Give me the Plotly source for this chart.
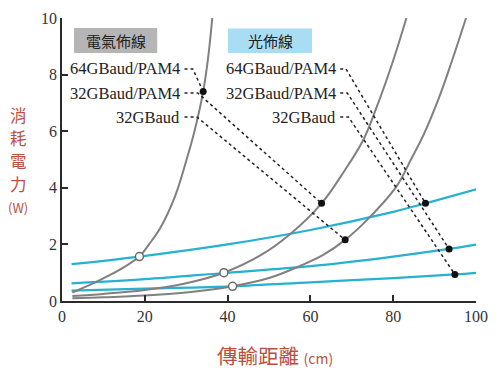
import plotly.graph_objects as go

# ---------------- data ----------------
# Electrical wiring curves (gray)
elec_64pam4_x = [2.5, 7.5, 11.6, 15, 18.7, 21, 23.7, 27.3, 30.1, 32, 34.1, 35.3, 36.3]
elec_64pam4_y = [0.30, 0.62, 0.92, 1.2, 1.57, 2.0, 2.57, 3.7, 5.0, 6.0, 7.4, 8.6, 10.0]

elec_32pam4_x = [2.5, 10, 20, 30, 39.1, 47.8, 55, 62.7, 68, 72.8, 76, 80, 83.2]
elec_32pam4_y = [0.18, 0.25, 0.39, 0.63, 1.0, 1.6, 2.35, 3.45, 4.55, 5.7, 6.85, 8.5, 10.0]

elec_32_x = [2.5, 10, 20, 30, 41.2, 50, 57.5, 63, 68.4, 74, 80.8, 84.5, 87.3, 91, 94, 97.6]
elec_32_y = [0.10, 0.13, 0.19, 0.30, 0.52, 0.81, 1.24, 1.62, 2.16, 2.91, 4.05, 5.06, 5.86, 7.16, 8.4, 10.0]

# Optical wiring curves (blue)
opt_64pam4_x = [2.3, 18.7, 40, 60, 80, 87.8, 100.4]
opt_64pam4_y = [1.30, 1.57, 2.0, 2.51, 3.15, 3.45, 3.96]

opt_32pam4_x = [2.3, 20, 39.1, 60, 80, 93.5, 100.4]
opt_32pam4_y = [0.62, 0.77, 0.99, 1.23, 1.57, 1.84, 2.0]

opt_32_x = [2.3, 20, 41.2, 60, 80, 94.9, 100.4]
opt_32_y = [0.37, 0.44, 0.52, 0.66, 0.81, 0.94, 1.0]

# Crossing points (open circles)
cross_x = [18.7, 39.1, 41.2]
cross_y = [1.57, 1.0, 0.52]

# Labelled points (black dots)
series_labels = ["64GBaud/PAM4", "32GBaud/PAM4", "32GBaud"]
elec_dot_x = [34.1, 62.7, 68.4]
elec_dot_y = [7.4, 3.45, 2.16]
opt_dot_x = [87.8, 93.5, 94.9]
opt_dot_y = [3.45, 1.84, 0.94]

x_ticks = [0, 20, 40, 60, 80, 100]
y_ticks = [0, 2, 4, 6, 8, 10]

y_title_chars = ["消", "耗", "電", "力"]

# ---------------- styling ----------------
GRAY = "#808080"
BLUE = "#26b1d2"
AXIS = "#2a2a2a"
TXT = "#222222"
RED = "#b9503f"
SERIF = "Liberation Serif, Times New Roman, serif"
CJK = "Noto Sans CJK TC, Noto Sans CJK SC, sans-serif"

fig = go.Figure()

for xs, ys in [(opt_64pam4_x, opt_64pam4_y), (opt_32pam4_x, opt_32pam4_y), (opt_32_x, opt_32_y)]:
    fig.add_trace(go.Scatter(x=xs, y=ys, mode="lines", line=dict(color=BLUE, width=2.2, shape="spline"),
                             hoverinfo="skip", showlegend=False))

for xs, ys in [(elec_64pam4_x, elec_64pam4_y), (elec_32pam4_x, elec_32pam4_y), (elec_32_x, elec_32_y)]:
    fig.add_trace(go.Scatter(x=xs, y=ys, mode="lines", line=dict(color=GRAY, width=2, shape="spline"),
                             hoverinfo="skip", showlegend=False))

# leader lines from labels to dots
label_y = [8.2, 7.35, 6.5]
elec_label_right = 29.0
opt_label_right = 66.6
elec_corner = [31.6, 32.8, 32.6]
opt_corner = [68.6, 68.9, 69.2]
for i in range(3):
    fig.add_trace(go.Scatter(
        x=[elec_label_right + 0.6, elec_corner[i], elec_dot_x[i]],
        y=[label_y[i], label_y[i], elec_dot_y[i]],
        mode="lines", line=dict(color=TXT, width=1.5, dash="dot"),
        hoverinfo="skip", showlegend=False))
    fig.add_trace(go.Scatter(
        x=[opt_label_right + 0.6, opt_corner[i], opt_dot_x[i]],
        y=[label_y[i], label_y[i], opt_dot_y[i]],
        mode="lines", line=dict(color=TXT, width=1.5, dash="dot"),
        hoverinfo="skip", showlegend=False))

fig.add_trace(go.Scatter(x=cross_x, y=cross_y, mode="markers",
                         marker=dict(size=8, color="white", line=dict(color="#6a6a6a", width=1.5)),
                         hoverinfo="skip", showlegend=False))
fig.add_trace(go.Scatter(x=elec_dot_x + opt_dot_x, y=elec_dot_y + opt_dot_y, mode="markers",
                         marker=dict(size=7, color="#111111"),
                         hoverinfo="skip", showlegend=False))

annotations = []
for i, lab in enumerate(series_labels):
    annotations.append(dict(x=elec_label_right, y=label_y[i], xref="x", yref="y", text=lab,
                            xanchor="right", yanchor="middle", showarrow=False,
                            font=dict(family=SERIF, size=16.5, color=TXT)))
    annotations.append(dict(x=opt_label_right, y=label_y[i], xref="x", yref="y", text=lab,
                            xanchor="right", yanchor="middle", showarrow=False,
                            font=dict(family=SERIF, size=16.5, color=TXT)))

# category boxes
shapes = [
    dict(type="rect", xref="x", yref="y", x0=2.9, x1=23.0, y0=8.76, y1=9.65,
         fillcolor="#b5b5b5", line=dict(width=0), layer="below"),
    dict(type="rect", xref="x", yref="y", x0=40.1, x1=60.4, y0=8.76, y1=9.63,
         fillcolor="#a9ddf3", line=dict(width=0), layer="below"),
]
annotations.append(dict(x=12.95, y=9.2, xref="x", yref="y", text="電氣佈線", showarrow=False,
                        font=dict(family=CJK, size=15, color=TXT)))
annotations.append(dict(x=50.25, y=9.2, xref="x", yref="y", text="光佈線", showarrow=False,
                        font=dict(family=CJK, size=15, color=TXT)))

# y-axis title: stacked characters, one annotation each
y_title_pos = [0.656, 0.575, 0.494, 0.413]
for ch, yp in zip(y_title_chars, y_title_pos):
    annotations.append(dict(x=-0.106, y=yp, xref="paper", yref="paper", xanchor="center", yanchor="middle",
                            text=ch, showarrow=False,
                            font=dict(family=CJK, size=16.5, color=RED)))
annotations.append(dict(x=-0.106, y=0.332, xref="paper", yref="paper", xanchor="center", yanchor="middle",
                        text="(W)", showarrow=False,
                        font=dict(family=CJK, size=13, color=RED)))
annotations.append(dict(x=0.514, y=-0.191, xref="paper", yref="paper", xanchor="center", yanchor="middle",
                        text="傳輸距離 <span style='font-size:14px'>(cm)</span>", showarrow=False,
                        font=dict(family=CJK, size=20.5, color=RED)))

axis_common = dict(showgrid=False, zeroline=False, showline=True, linecolor=AXIS, linewidth=1.6,
                   ticks="inside", ticklen=6, tickwidth=1.5, tickcolor=AXIS,
                   tickfont=dict(family=SERIF, size=16, color="#333333"), mirror=False,
                   automargin=False)

fig.update_layout(
    width=500, height=370,
    margin=dict(l=62, r=24, t=18, b=69, autoexpand=False),
    paper_bgcolor="white", plot_bgcolor="white",
    xaxis=dict(range=[0, 100], tickvals=x_ticks, ticktext=[str(v) for v in x_ticks], **axis_common),
    yaxis=dict(range=[0, 10], tickvals=y_ticks, ticktext=[str(v) for v in y_ticks], **axis_common),
    shapes=shapes,
    annotations=annotations,
    showlegend=False,
)

fig.write_html("out.html", config={"displayModeBar": False},
               post_script="document.body.style.margin='0';document.body.style.overflow='hidden';")
